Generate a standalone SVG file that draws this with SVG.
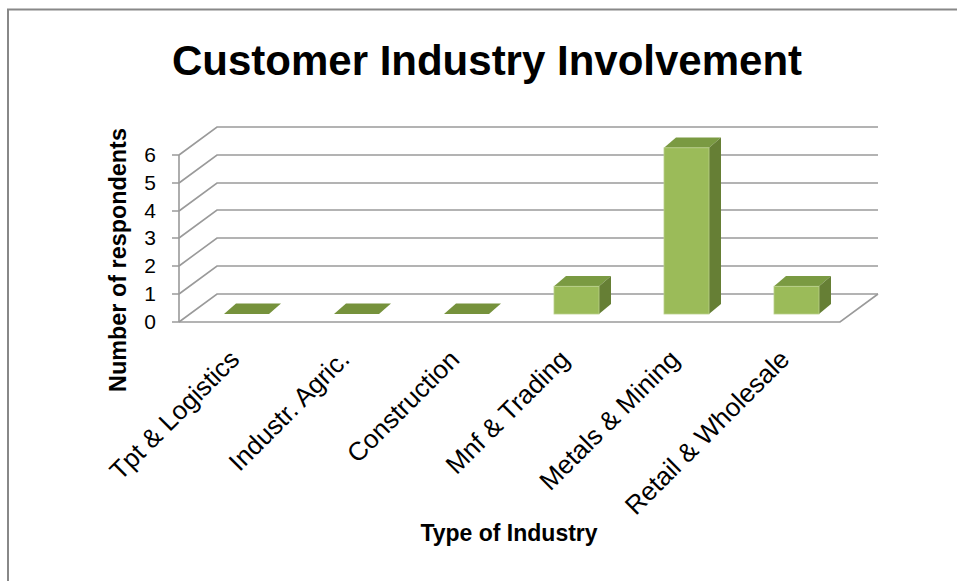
<svg xmlns="http://www.w3.org/2000/svg" width="957" height="581" viewBox="0 0 957 581">
<style>
.grid{fill:none;stroke:#9a9a9a;stroke-width:1.6}
.lbl{font-family:"Liberation Sans",Arial,sans-serif;fill:#000}
.ttl{font-family:"Liberation Sans",Arial,sans-serif;font-weight:bold;fill:#000}
.front{fill:#9bbb59;stroke:#b9d08a;stroke-width:0.8}
.top{fill:#7a9a42}
.side{fill:#667f35}
.flat{fill:#76923c}
</style>
<rect width="957" height="581" fill="#fff"/>
<path d="M8,581 V9.5 H957" fill="none" stroke="#888" stroke-width="2"/>
<text class="ttl" x="487" y="75" font-size="42" text-anchor="middle">Customer Industry Involvement</text>
<g id="gridlines">
<path class="grid" d="M179,155 L217,127 H878"/>
<path class="grid" d="M179,183 L217,155 H878"/>
<path class="grid" d="M179,211 L217,183 H878"/>
<path class="grid" d="M179,238 L217,210 H878"/>
<path class="grid" d="M179,266 L217,238 H878"/>
<path class="grid" d="M179,294 L217,266 H878"/>
<path class="grid" d="M179,322 L217,294 H878"/>
<path class="grid" d="M179,322 H840 L878,294"/>
<path class="grid" d="M179,155 V322 M172,155 H179 M172,183 H179 M172,211 H179 M172,238 H179 M172,266 H179 M172,294 H179 M172,322 H179"/>
</g>
<g id="y-axis-labels" class="lbl" font-size="21" text-anchor="end">
<text x="156" y="162">6</text>
<text x="156" y="190">5</text>
<text x="156" y="218">4</text>
<text x="156" y="245">3</text>
<text x="156" y="273">2</text>
<text x="156" y="301">1</text>
<text x="156" y="329">0</text>
</g>
<text class="ttl" font-size="23.4" text-anchor="middle" transform="translate(126,260) rotate(-90)">Number of respondents</text>
<g id="bar-tpt"><polygon class="flat" points="224,314 269,314 281,303.5 236,303.5"/></g>
<g id="bar-agric"><polygon class="flat" points="334,314 379,314 391,303.5 346,303.5"/></g>
<g id="bar-construction"><polygon class="flat" points="444,314 489,314 501,303.5 456,303.5"/></g>
<g id="bar-mnf">
<polygon class="top" points="554,286.3 599,286.3 611,276 566,276"/>
<polygon class="side" points="599,286.3 611,276 611,304 599,314"/>
<rect class="front" x="554" y="286.3" width="45" height="27.7"/>
</g>
<g id="bar-metals">
<polygon class="top" points="664,147.8 709,147.8 721,137.5 676,137.5"/>
<polygon class="side" points="709,147.8 721,137.5 721,304 709,314"/>
<rect class="front" x="664" y="147.8" width="45" height="166.2"/>
</g>
<g id="bar-retail">
<polygon class="top" points="774,286.3 819,286.3 831,276 786,276"/>
<polygon class="side" points="819,286.3 831,276 831,304 819,314"/>
<rect class="front" x="774" y="286.3" width="45" height="27.7"/>
</g>
<g id="x-axis-labels" class="lbl" font-size="26" text-anchor="end">
<text transform="translate(241,361) rotate(-45)">Tpt &amp; Logistics</text>
<text transform="translate(351,361) rotate(-45)">Industr. Agric.</text>
<text transform="translate(461,361) rotate(-45)">Construction</text>
<text transform="translate(571,361) rotate(-45)">Mnf &amp; Trading</text>
<text transform="translate(681,361) rotate(-45)">Metals &amp; Mining</text>
<text transform="translate(791,361) rotate(-45)">Retail &amp; Wholesale</text>
</g>
<text class="ttl" x="509" y="541" font-size="23" text-anchor="middle">Type of Industry</text>
</svg>
